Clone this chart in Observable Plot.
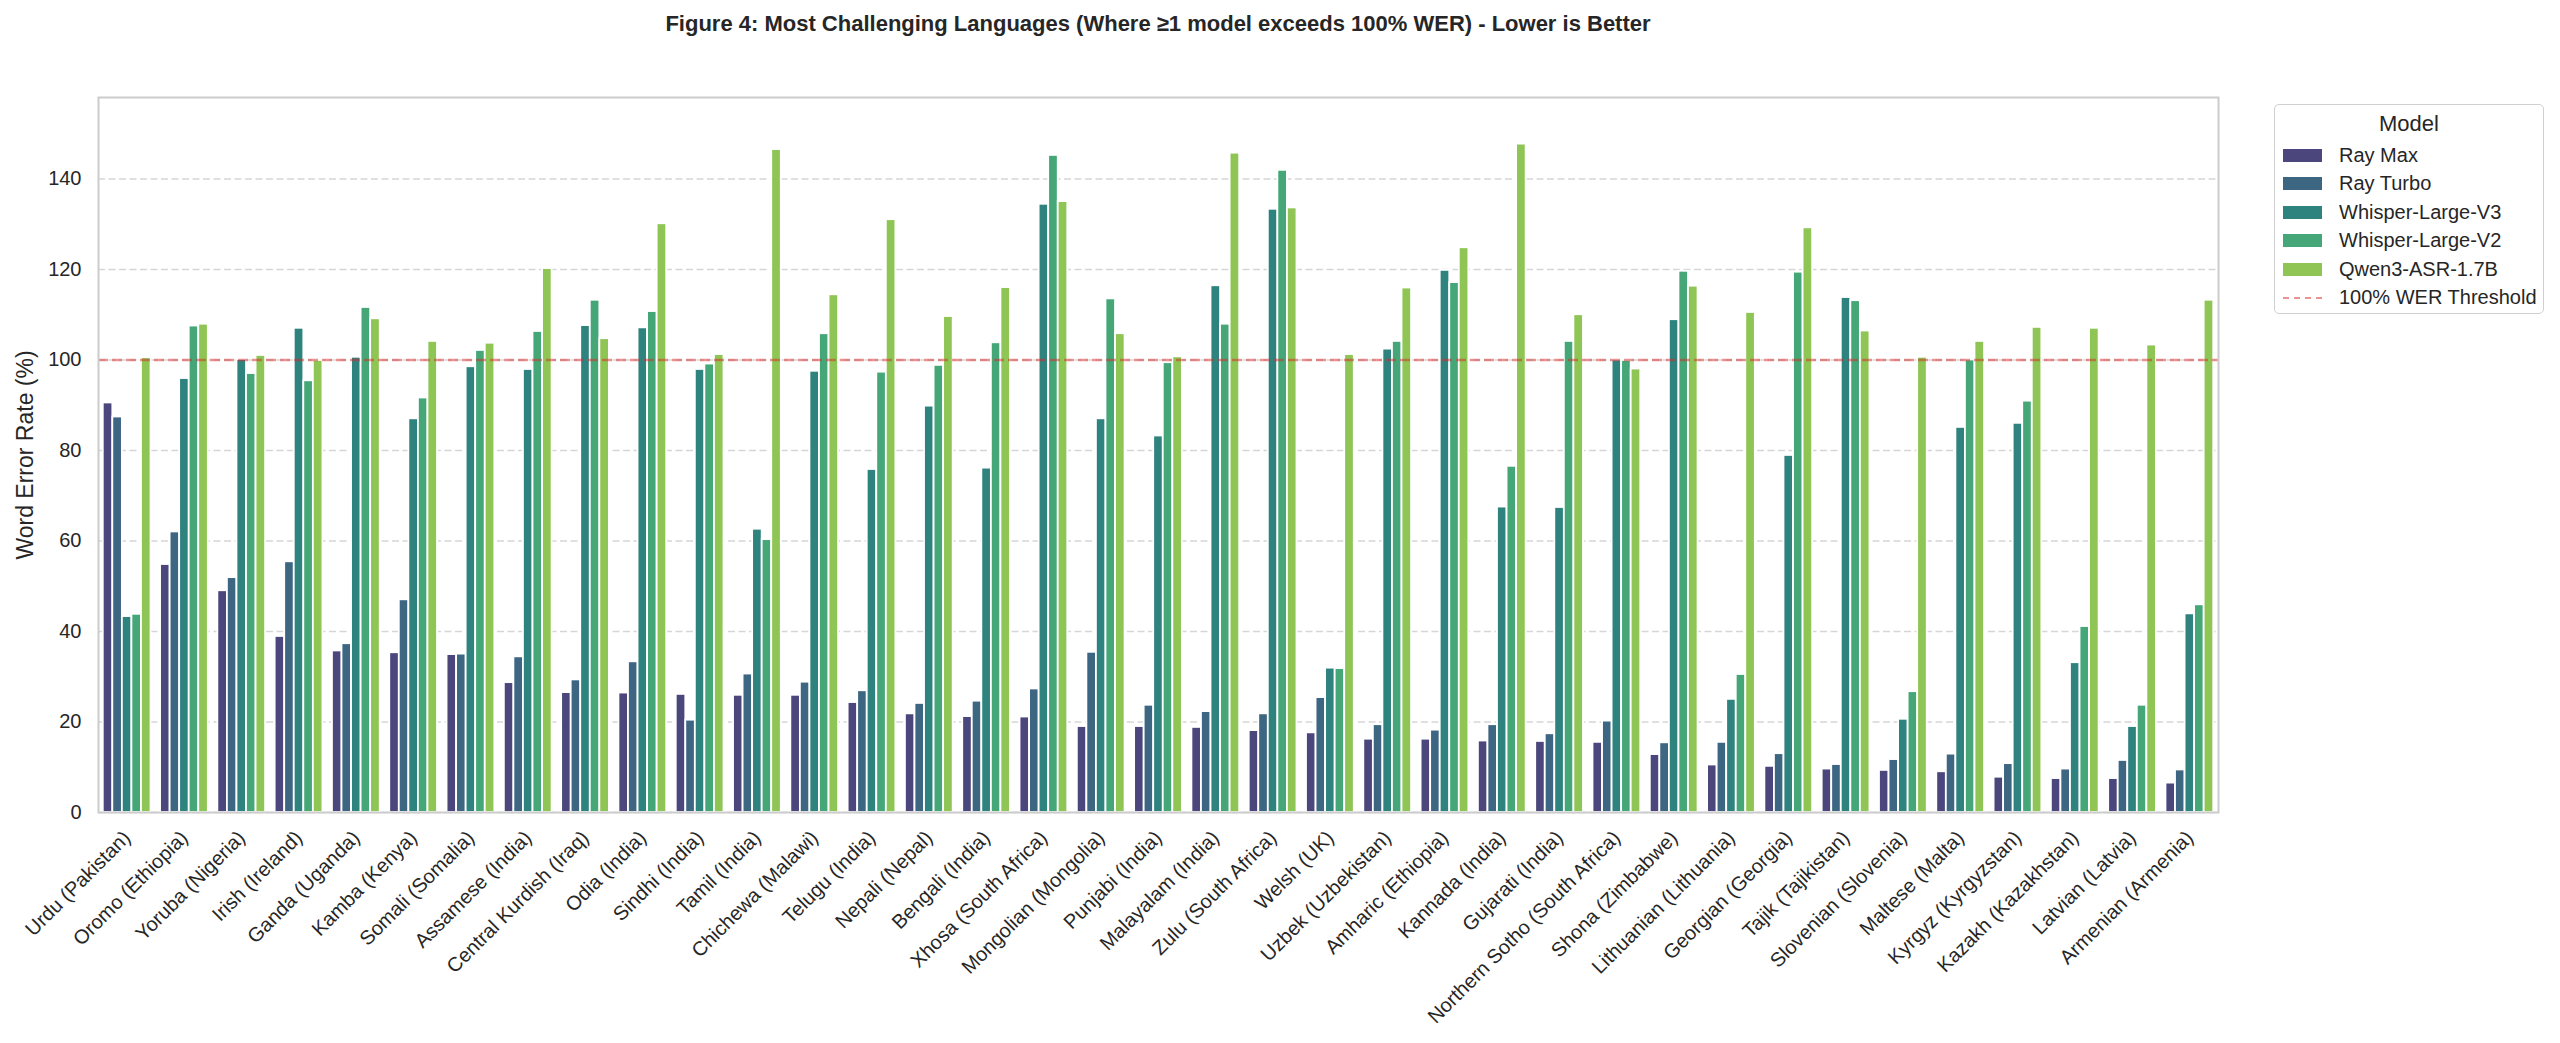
<!DOCTYPE html>
<html>
<head>
<meta charset="utf-8">
<script src="https://cdn.jsdelivr.net/npm/d3@7"></script>
<script src="https://cdn.jsdelivr.net/npm/@observablehq/plot@0.6"></script>
<style>
  html, body { margin: 0; padding: 0; background: #ffffff; }
  #wrap { position: relative; width: 2560px; height: 1043px; font-family: "Liberation Sans", Arial, sans-serif; color: #262626; }
  #chart { position: absolute; left: 0; top: 0; }
  #chart g[aria-label="y-axis label"] text { font-size: 23px; }
  #title { position: absolute; left: 0; top: 13px; width: 2316px; text-align: center; font-weight: bold; font-size: 22px; line-height: 22px; color: #262626; }
  #legend { position: absolute; left: 2274px; top: 104px; width: 270px; height: 210px; box-sizing: border-box; border: 1.5px solid #d0d0d0; border-radius: 5px; background: rgba(255,255,255,0.85); }
  #legend .ltitle { text-align: center; font-size: 22px; line-height: 24px; margin-top: 7px; margin-bottom: 5px; }
  #legend .row { display: flex; align-items: center; height: 28.5px; font-size: 20px; }
  #legend .sw { width: 39px; height: 13px; margin-left: 8px; margin-right: 17px; }
  #legend .dash { width: 39px; height: 0; margin-left: 8px; margin-right: 17px; border-top: 2.5px dashed rgba(214,39,40,0.5); }
</style>
</head>
<body>
<div id="wrap">
  <div id="chart"></div>
  <div id="title">Figure 4: Most Challenging Languages (Where ≥1 model exceeds 100% WER) - Lower is Better</div>
  <div id="legend"></div>
</div>
<script>
const languages = [
  "Urdu (Pakistan)", "Oromo (Ethiopia)", "Yoruba (Nigeria)", "Irish (Ireland)", "Ganda (Uganda)",
  "Kamba (Kenya)", "Somali (Somalia)", "Assamese (India)", "Central Kurdish (Iraq)", "Odia (India)",
  "Sindhi (India)", "Tamil (India)", "Chichewa (Malawi)", "Telugu (India)", "Nepali (Nepal)",
  "Bengali (India)", "Xhosa (South Africa)", "Mongolian (Mongolia)", "Punjabi (India)", "Malayalam (India)",
  "Zulu (South Africa)", "Welsh (UK)", "Uzbek (Uzbekistan)", "Amharic (Ethiopia)", "Kannada (India)",
  "Gujarati (India)", "Northern Sotho (South Africa)", "Shona (Zimbabwe)", "Lithuanian (Lithuania)", "Georgian (Georgia)",
  "Tajik (Tajikistan)", "Slovenian (Slovenia)", "Maltese (Malta)", "Kyrgyz (Kyrgyzstan)", "Kazakh (Kazakhstan)",
  "Latvian (Latvia)", "Armenian (Armenia)"
];

const models = ["Ray Max", "Ray Turbo", "Whisper-Large-V3", "Whisper-Large-V2", "Qwen3-ASR-1.7B"];
const modelColors = ["#4b477c", "#3d6682", "#2f837f", "#45a778", "#8fc555"];

const rayMax = [90.5, 54.8, 49.0, 38.9, 35.7, 35.3, 34.9, 28.7, 26.5, 26.4, 26.1, 25.9, 25.9, 24.3, 21.8, 21.2, 21.1, 19.0, 19.0, 18.8, 18.1, 17.6, 16.2, 16.2, 15.8, 15.7, 15.5, 12.8, 10.5, 10.2, 9.6, 9.3, 9.0, 7.8, 7.5, 7.5, 6.5];
const rayTurbo = [87.4, 62.0, 51.9, 55.4, 37.3, 47.0, 35.0, 34.4, 29.3, 33.3, 20.4, 30.6, 28.8, 26.9, 24.1, 24.6, 27.3, 35.4, 23.7, 22.3, 21.8, 25.4, 19.4, 18.2, 19.4, 17.4, 20.2, 15.4, 15.5, 13.0, 10.6, 11.7, 12.9, 10.8, 9.6, 11.5, 9.4];
const whisperV3 = [43.3, 95.9, 100.1, 107.0, 100.6, 87.0, 98.5, 97.9, 107.6, 107.1, 97.9, 62.6, 97.5, 75.8, 89.8, 76.1, 134.4, 87.0, 83.2, 116.4, 133.3, 31.9, 102.4, 119.8, 67.5, 67.4, 100.0, 108.9, 25.0, 78.9, 113.8, 20.6, 85.1, 86.0, 33.1, 19.0, 43.9];
const whisperV2 = [43.8, 107.5, 97.0, 95.4, 111.6, 91.6, 102.1, 106.3, 113.2, 110.7, 99.1, 60.3, 105.8, 97.3, 98.8, 103.8, 145.2, 113.5, 99.4, 107.9, 141.9, 31.8, 104.1, 117.1, 76.5, 104.1, 99.9, 119.6, 30.5, 119.4, 113.1, 26.7, 100.0, 90.9, 41.1, 23.7, 45.9];
const qwen = [100.5, 107.9, 101.0, 99.9, 109.1, 104.1, 103.7, 120.2, 104.7, 130.1, 101.2, 146.5, 114.4, 131.0, 109.6, 116.0, 135.0, 105.8, 100.7, 145.7, 133.6, 101.2, 115.9, 124.8, 147.7, 110.0, 98.0, 116.3, 110.5, 129.2, 106.4, 100.6, 104.1, 107.2, 107.0, 103.3, 113.2];

const yTicks = [0, 20, 40, 60, 80, 100, 120, 140];
const threshold = [100];
const thresholdLabel = "100% WER Threshold";
const yLabel = "Word Error Rate (%)";
const legendTitle = "Model";

const series = [rayMax, rayTurbo, whisperV3, whisperV2, qwen];
const SEP = "|";
const slotKey = (language, slot) => language + SEP + slot;

const data = languages.flatMap((language, i) =>
  models.map((model, k) => ({ language, model, slot: slotKey(language, model), wer: series[k][i] }))
);

// Band domain: the five model slots of each language, with one empty slot between groups
const xDomain = languages.flatMap((language, i) => {
  const s = models.map(m => slotKey(language, m));
  if (i < languages.length - 1) s.push(slotKey(language, "gap"));
  return s;
});
const xTicks = languages.map(language => slotKey(language, models[2]));

const chart = Plot.plot({
  width: 2560,
  height: 1043,
  marginLeft: 98,
  marginRight: 342,
  marginTop: 97,
  marginBottom: 231,
  style: { fontFamily: "'Liberation Sans', Arial, sans-serif", fontSize: "20px", color: "#262626", background: "transparent" },
  x: { domain: xDomain, paddingInner: 0, paddingOuter: 0.5 },
  y: { domain: [0, 158] },
  color: { domain: models, range: modelColors },
  marks: [
    Plot.gridY(yTicks, { stroke: "#d6d6d6", strokeOpacity: 1, strokeWidth: 1.5, strokeDasharray: "7,3.5" }),
    Plot.barY(data, { x: "slot", y: "wer", fill: "model", stroke: "white", strokeWidth: 1.8 }),
    Plot.ruleY(threshold, { stroke: "#d62728", strokeOpacity: 0.5, strokeWidth: 2.5, strokeDasharray: "10,4" }),
    Plot.frame({ stroke: "#cccccc", strokeWidth: 2 }),
    Plot.axisY(yTicks, { tickSize: 0, tickPadding: 17, fontSize: 20, label: yLabel, labelAnchor: "center", labelArrow: "none", labelOffset: 82 }),
    Plot.axisX(xTicks, { anchor: "bottom", tickRotate: -45, tickSize: 0, tickPadding: 22, fontSize: 20, label: null, tickFormat: d => d.split(SEP)[0] })
  ]
});
document.getElementById("chart").appendChild(chart);

// Legend
const legend = document.getElementById("legend");
const t = document.createElement("div");
t.className = "ltitle";
t.textContent = legendTitle;
legend.appendChild(t);
models.forEach((m, k) => {
  const row = document.createElement("div");
  row.className = "row";
  const sw = document.createElement("div");
  sw.className = "sw";
  sw.style.background = modelColors[k];
  const lab = document.createElement("span");
  lab.textContent = m;
  row.appendChild(sw);
  row.appendChild(lab);
  legend.appendChild(row);
});
const row = document.createElement("div");
row.className = "row";
const dash = document.createElement("div");
dash.className = "dash";
const lab = document.createElement("span");
lab.textContent = thresholdLabel;
row.appendChild(dash);
row.appendChild(lab);
legend.appendChild(row);
</script>
</body>
</html>
